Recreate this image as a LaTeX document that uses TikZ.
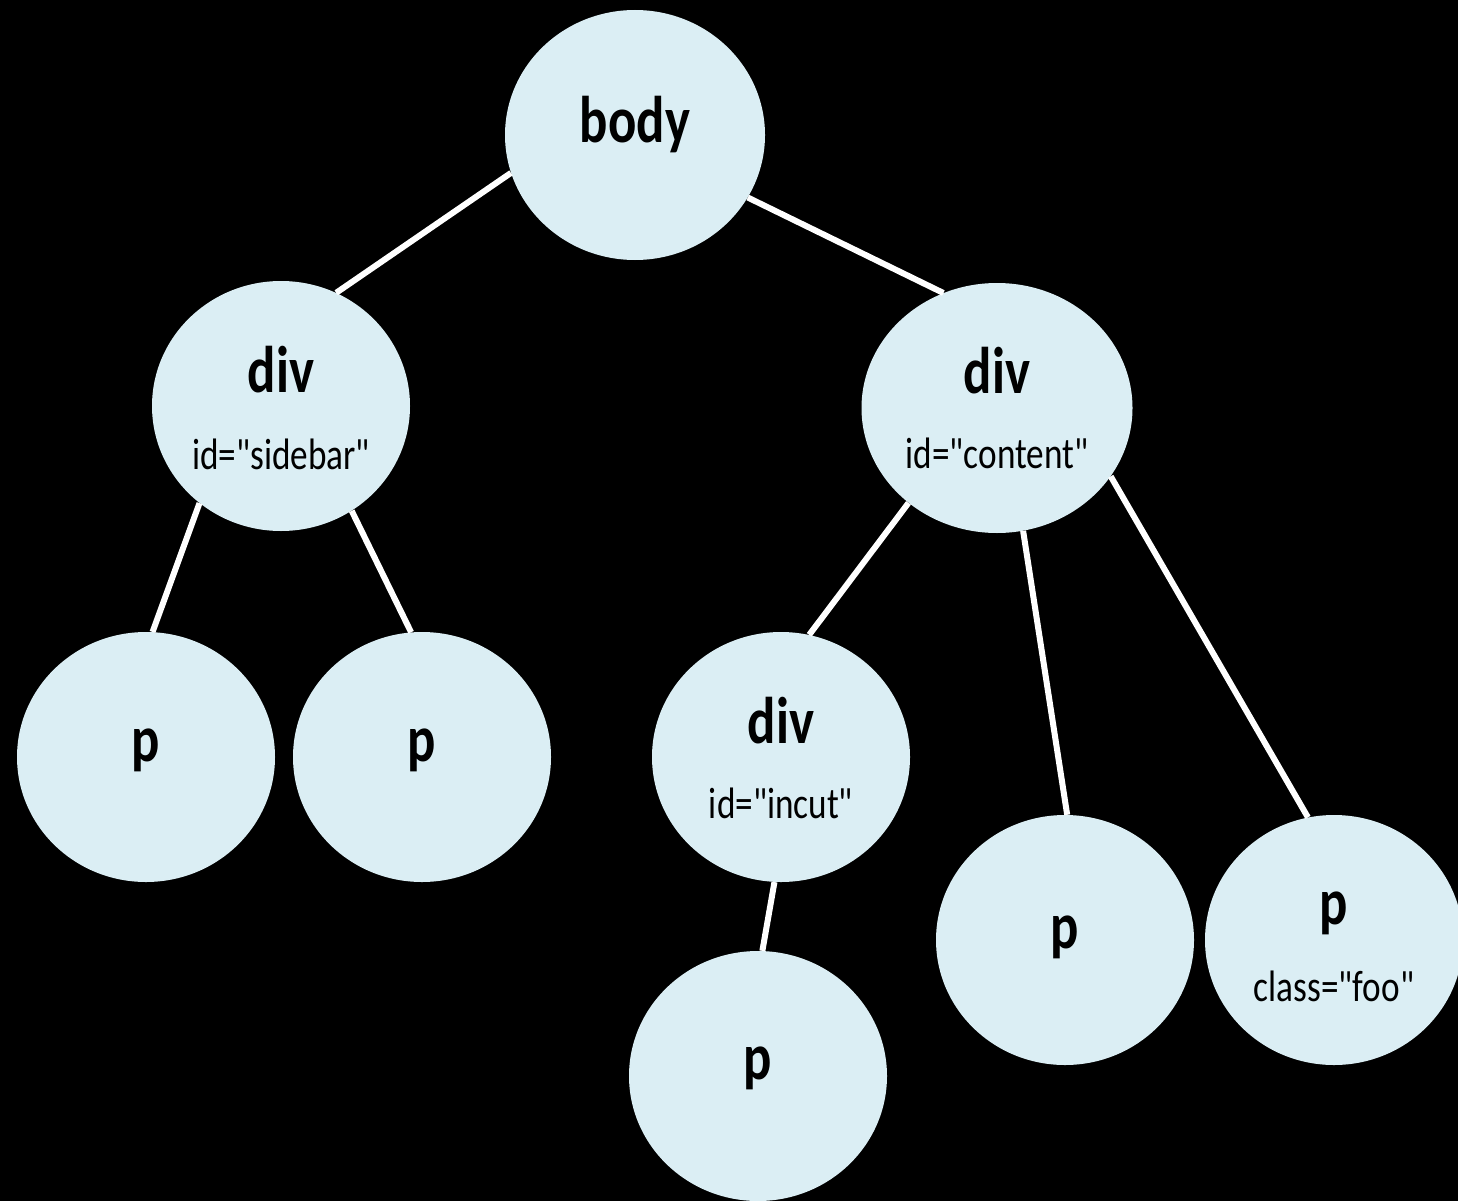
\documentclass[tikz,border=0pt]{standalone}
\usepackage{fontspec}
\setmainfont{Carlito}
\usetikzlibrary{shapes.geometric}
\definecolor{bubblefill}{RGB}{219,238,244}
\newcommand{\tagtext}[1]{\scalebox{0.8}[1]{\fontsize{66}{70}\selectfont\bfseries #1}}
\newcommand{\attrtext}[1]{\scalebox{0.8}[1]{\fontsize{44}{48}\selectfont #1}}
\newcommand{\qt}{\textquotedbl}
\tikzstyle{bubble}=[ellipse,fill=bubblefill,inner sep=0pt]
\tikzstyle{small bubble}=[bubble,minimum width=258pt,minimum height=250pt]
\tikzstyle{edge} = [draw,white,line width=6pt,-]
\tikzstyle{label} = [anchor=base,inner sep=0pt,text=black]

\begin{document}
\begin{tikzpicture}[x=1pt,y=-1pt]
			\useasboundingbox (0,0) rectangle (1458,1201);
			\clip (0,0) rectangle (1458,1201);
			\fill[black] (0,0) rectangle (1458,1201);
			\node[bubble,minimum width=260pt,minimum height=250pt] (body) at (635,135) {};
			\node[small bubble] (sidebar) at (281,406) {};
			\node[bubble,minimum width=271pt,minimum height=250pt] (content) at (997,408) {};
			\node[small bubble] (p1) at (146,757) {};
			\node[small bubble] (p2) at (422,757) {};
			\node[small bubble] (incut) at (781,757) {};
			\node[small bubble] (p3) at (758,1076) {};
			\node[small bubble] (p4) at (1065,940) {};
			\node[small bubble] (foo) at (1334,940) {};
	    		% Texts inside the bubbles
			\path (body.center) ++(0,8) node[label] {\tagtext{body}};
			\path (sidebar.center) ++(0,-14) node[label] {\tagtext{div}};
			\path (sidebar.center) ++(0,63) node[label] {\attrtext{id=\qt sidebar\qt}};
			\path (content.center) ++(0,-15) node[label] {\tagtext{div}};
			\path (content.center) ++(0,60) node[label] {\attrtext{id=\qt content\qt}};
			\path (incut.center) ++(0,-14) node[label] {\tagtext{div}};
			\path (incut.center) ++(0,61) node[label] {\attrtext{id=\qt incut\qt}};
			\path (p1.center) ++(0,4) node[label] {\tagtext{p}};
			\path (p2.center) ++(0,4) node[label] {\tagtext{p}};
			\path (p3.center) ++(0,3) node[label] {\tagtext{p}};
			\path (p4.center) ++(0,8) node[label] {\tagtext{p}};
			\path (foo.center) ++(0,-16) node[label] {\tagtext{p}};
			\path (foo.center) ++(0,61) node[label] {\attrtext{class=\qt foo\qt}};
	   		 % Connect parents with children
	   		\foreach \source/ \dest in {body.197/sidebar.64,body.331/content.115,
	   			sidebar.230/p1.87,sidebar.304/p2.95,content.227/incut.77,
	   			content.282/p4.89,content.329/foo.102,incut.267/p3.88}
	        		\path[edge] (\source) to (\dest);
		\end{tikzpicture}
\end{document}
